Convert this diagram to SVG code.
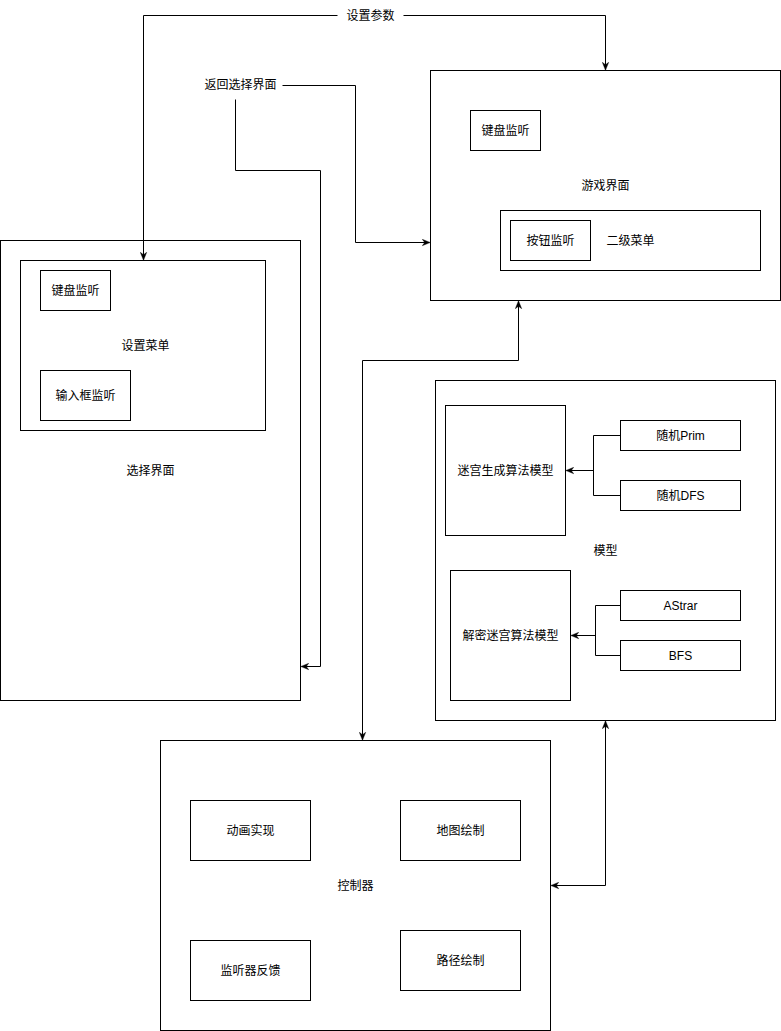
<svg xmlns="http://www.w3.org/2000/svg" width="781" height="1031" viewBox="0 0 781 1031">
<style>
.b{fill:#fff;stroke:#000;stroke-width:1}
.e{fill:none;stroke:#000;stroke-width:1}
text{font-family:"Liberation Sans","Noto Sans CJK SC",sans-serif;font-size:12px;fill:#000;text-anchor:middle;dominant-baseline:central}
</style>
<defs>
<marker id="a" viewBox="0 0 10 10" refX="9" refY="5" markerWidth="8" markerHeight="8" markerUnits="userSpaceOnUse" orient="auto-start-reverse">
<path d="M0,1 L10,5 L0,9 L3,5 Z" fill="#000" stroke="#000" stroke-width="0.5"/>
</marker>
</defs>
<rect width="781" height="1031" fill="#fff"/>
<g transform="translate(0.5,0.5)">
<g id="select"><rect class="b" x="0" y="240" width="300" height="460"/><text x="150" y="470">选择界面</text></g>
<g id="settings"><rect class="b" x="20" y="260" width="245" height="170"/><text x="145" y="345">设置菜单</text></g>
<g id="settings-kb"><rect class="b" x="40" y="270" width="70" height="40"/><text x="75" y="290">键盘监听</text></g>
<g id="settings-input"><rect class="b" x="40" y="370" width="90" height="50"/><text x="85" y="395">输入框监听</text></g>
<g id="game"><rect class="b" x="430" y="70" width="350" height="230"/><text x="605" y="185">游戏界面</text></g>
<g id="game-kb"><rect class="b" x="470" y="110" width="70" height="40"/><text x="505" y="130">键盘监听</text></g>
<g id="submenu"><rect class="b" x="500" y="210" width="260" height="60"/><text x="630" y="240">二级菜单</text></g>
<g id="btn"><rect class="b" x="510" y="220" width="80" height="40"/><text x="550" y="240">按钮监听</text></g>
<g id="model"><rect class="b" x="435" y="380" width="340" height="340"/><text x="605" y="550">模型</text></g>
<g id="gen"><rect class="b" x="445" y="405" width="120" height="130"/><text x="505" y="470">迷宫生成算法模型</text></g>
<g id="prim"><rect class="b" x="620" y="420" width="120" height="30"/><text x="680" y="435">随机Prim</text></g>
<g id="dfs"><rect class="b" x="620" y="480" width="120" height="30"/><text x="680" y="495">随机DFS</text></g>
<g id="solve"><rect class="b" x="450" y="570" width="120" height="130"/><text x="510" y="635">解密迷宫算法模型</text></g>
<g id="astar"><rect class="b" x="620" y="590" width="120" height="30"/><text x="680" y="605">AStrar</text></g>
<g id="bfs"><rect class="b" x="620" y="640" width="120" height="30"/><text x="680" y="655">BFS</text></g>
<g id="ctrl"><rect class="b" x="160" y="740" width="390" height="290"/><text x="355" y="885">控制器</text></g>
<g id="anim"><rect class="b" x="190" y="800" width="120" height="60"/><text x="250" y="830">动画实现</text></g>
<g id="map"><rect class="b" x="400" y="800" width="120" height="60"/><text x="460" y="830">地图绘制</text></g>
<g id="listen"><rect class="b" x="190" y="940" width="120" height="60"/><text x="250" y="970">监听器反馈</text></g>
<g id="path"><rect class="b" x="400" y="930" width="120" height="60"/><text x="460" y="960">路径绘制</text></g>
<g id="connectors">
<path class="e" d="M143,259 V15 H605 V69" marker-start="url(#a)" marker-end="url(#a)"/>
<rect x="337" y="6" width="66" height="18" fill="#fff"/>
<text x="370" y="15">设置参数</text>
<path class="e" d="M301,666 H320 V170 H235 V85 H355 V242 H429" marker-start="url(#a)" marker-end="url(#a)"/>
<rect x="196" y="75" width="86" height="24" fill="#fff"/>
<text x="240" y="84">返回选择界面</text>
<path class="e" d="M362,739 V360 H518 V301" marker-start="url(#a)" marker-end="url(#a)"/>
<path class="e" d="M605,721 V885 H551" marker-start="url(#a)" marker-end="url(#a)"/>
<path class="e" d="M620,435 H593 V495 H620"/>
<path class="e" d="M593,470 H566" marker-end="url(#a)"/>
<path class="e" d="M620,605 H595 V655 H620"/>
<path class="e" d="M595,635 H571" marker-end="url(#a)"/>
</g>
</g>
</svg>
